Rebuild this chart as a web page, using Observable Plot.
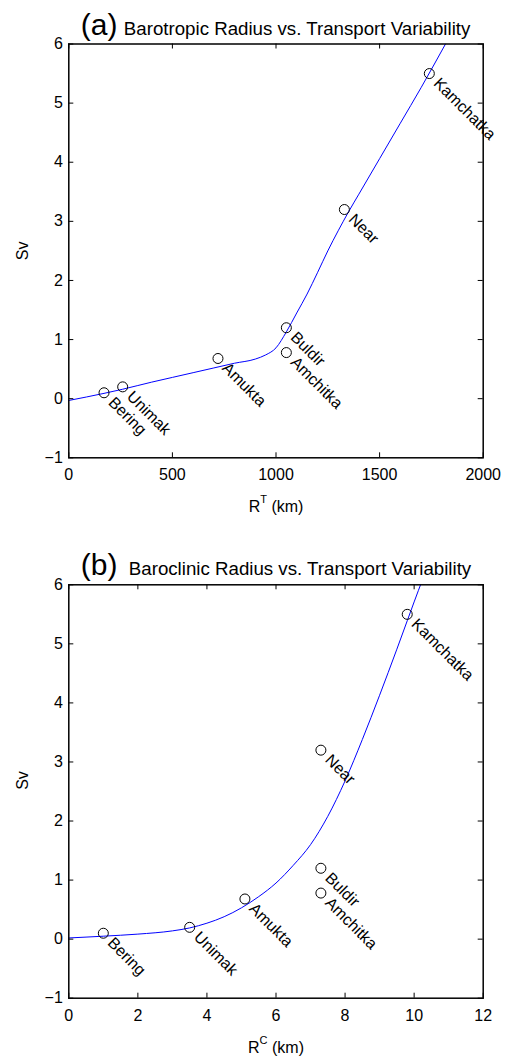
<!DOCTYPE html>
<html><head><meta charset="utf-8">
<script src="https://cdn.jsdelivr.net/npm/d3@7"></script>
<script src="https://cdn.jsdelivr.net/npm/@observablehq/plot@0.6"></script>
<style>
body{margin:0;background:#fff;}
#chart svg{display:block;}
</style></head><body><div id="chart"></div>
<script>
// ---- data ----
const stations = ["Bering","Unimak","Amukta","Buldir","Amchitka","Near","Kamchatka"];
const transportSv = [0.1, 0.2, 0.68, 1.2, 0.78, 3.2, 5.5];
const barotropicRadiusKm = [170, 260, 720, 1050, 1050, 1330, 1740];
const baroclinicRadiusKm = [1.0, 3.5, 5.1, 7.3, 7.3, 7.3, 9.8];

const fitA_x = [0,170,260,400,500,600,700,800,900,950,1000,1050,1100,1150,1200,1250,1300,1350,1400,1500,1600,1700,1818];
const fitA_y = [-0.03,0.09,0.16,0.28,0.36,0.44,0.52,0.6,0.67,0.74,0.86,1.13,1.45,1.77,2.13,2.5,2.84,3.16,3.46,4.06,4.66,5.26,6.0];
const fitB_x = [0,1,2,3,3.5,4,4.5,5,5.5,6,6.5,7,7.5,8,8.5,9,9.5,9.8,10,10.25];
const fitB_y = [0.02,0.05,0.085,0.14,0.19,0.27,0.38,0.53,0.72,0.95,1.25,1.6,2.08,2.68,3.38,4.13,4.91,5.39,5.71,6.1];

const yTicks = [-1,0,1,2,3,4,5,6];
const xTicksA = [0,500,1000,1500,2000];
const xTicksB = [0,2,4,6,8,10,12];

const FONT = "'Liberation Sans', Arial, Helvetica, sans-serif";
const fmt = d => (d < 0 ? "\u2212" + Math.abs(d) : String(d));

function panel({letter, title, xs, fitX, fitY, xDomain, xTicks, sup, height, marginTop, marginBottom, letterDy, titleDx, svDy}) {
  const W = 506, ML = 68.3, MR = 23.3;
  const frameH = height - marginTop - marginBottom;
  const frameW = W - ML - MR;
  const pts = stations.map((name, i) => ({name, x: xs[i], y: transportSv[i]}));
  const fit = fitX.map((x, i) => ({x, y: fitY[i]}));
  const XL = "__XLABEL__";
  const svg = Plot.plot({
    width: W, height, marginLeft: ML, marginRight: MR, marginTop, marginBottom,
    style: {fontFamily: FONT, fontSize: "15px", background: "white", color: "black", overflow: "visible"},
    x: {domain: xDomain},
    y: {domain: [-1, 6]},
    marks: [
      Plot.line(fit, {x: "x", y: "y", stroke: "#0000ff", strokeWidth: 1, curve: "monotone-x", clip: true}),
      Plot.dot(pts, {x: "x", y: "y", r: 5, stroke: "black", strokeWidth: 1, fill: "none"}),
      Plot.text(pts, {x: "x", y: "y", text: "name", rotate: 45, textAnchor: "start", lineAnchor: "middle", dx: 7, dy: 7, fontSize: 16, fill: "black"}),
      Plot.tickX(xTicks, {x: d => d, insetTop: frameH - 5, stroke: "black"}),
      Plot.tickX(xTicks, {x: d => d, insetBottom: frameH - 5, stroke: "black"}),
      Plot.tickY(yTicks, {y: d => d, insetRight: frameW - 5, stroke: "black"}),
      Plot.tickY(yTicks, {y: d => d, insetLeft: frameW - 5, stroke: "black"}),
      Plot.axisX(xTicks, {tickSize: 0, tickPadding: 11, label: null, fontSize: 16, tickFormat: fmt}),
      Plot.axisY(yTicks, {tickSize: 0, tickPadding: 6, label: null, fontSize: 16, tickFormat: fmt}),
      Plot.frame({stroke: "black", strokeWidth: 1.5}),
      Plot.text([letter], {frameAnchor: "top-left", text: d => d, dx: 12, dy: letterDy, lineAnchor: "bottom", textAnchor: "start", fontSize: 30}),
      Plot.text([title], {frameAnchor: "top-left", text: d => d, dx: titleDx, dy: letterDy, lineAnchor: "bottom", textAnchor: "start", fontSize: 18.7}),
      Plot.text(["Sv"], {frameAnchor: "left", text: d => d, dx: -46, dy: svDy, rotate: -90, textAnchor: "middle", lineAnchor: "middle", fontSize: 16}),
      Plot.text([XL], {frameAnchor: "bottom", text: d => d, dy: 54.5, lineAnchor: "bottom", textAnchor: "middle", fontSize: 16})
    ]
  });
  const t = d3.select(svg).selectAll("text").filter(function () { return this.textContent === XL; });
  t.text(null);
  t.append("tspan").text("R");
  t.append("tspan").attr("dy", -9).attr("font-size", 11).text(sup);
  t.append("tspan").attr("dy", 9).text(" (km)");
  return svg;
}

const chart = document.getElementById("chart");
chart.append(panel({
  letter: "(a)", title: "Barotropic Radius vs. Transport Variability",
  xs: barotropicRadiusKm, fitX: fitA_x, fitY: fitA_y, xDomain: [0, 2000], xTicks: xTicksA, sup: "T",
  height: 530, marginTop: 43.5, marginBottom: 72.7, letterDy: -9.5, titleDx: 55, svDy: 0
}));
chart.append(panel({
  letter: "(b)", title: "Baroclinic Radius vs. Transport Variability",
  xs: baroclinicRadiusKm, fitX: fitB_x, fitY: fitB_y, xDomain: [0, 12], xTicks: xTicksB, sup: "C",
  height: 528, marginTop: 54.3, marginBottom: 60.3, letterDy: -10, titleDx: 60, svDy: -11
}));
</script></body></html>
